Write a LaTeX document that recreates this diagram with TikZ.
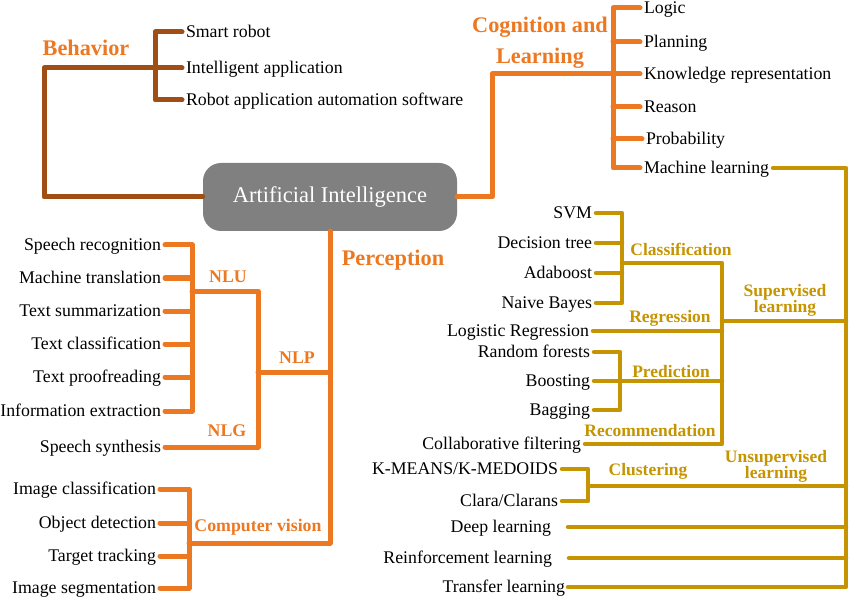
\documentclass[tikz,border=0pt]{standalone}
\usepackage{fontspec}
\setmainfont{Liberation Serif}
\definecolor{aiorange}{RGB}{236,120,34}
\definecolor{aibrown}{RGB}{160,78,20}
\definecolor{aigold}{RGB}{198,148,0}
\definecolor{aigray}{RGB}{128,128,128}
\begin{document}
\begin{tikzpicture}[x=1pt,y=-1pt,
  item/.style={font=\fontsize{17.8}{20}\selectfont, inner ysep=0pt, inner xsep=4pt, text height=11.7pt, text depth=0pt, outer sep=0pt},
  itemR/.style={item, anchor=west},
  itemL/.style={item, anchor=east},
  catlab/.style={font=\fontsize{22.3}{31}\selectfont\bfseries, text=aiorange, align=center, inner sep=0pt},
  sublab/.style={font=\fontsize{17.8}{20}\selectfont\bfseries, text=aiorange, align=center, inner sep=0pt},
  goldlab/.style={font=\fontsize{17.5}{16}\selectfont\bfseries, text=aigold, align=center, inner sep=0pt},
  brownline/.style={draw=aibrown, line width=5pt, line cap=round, line join=round},
  orangeline/.style={draw=aiorange, line width=5pt, line cap=round, line join=round},
  goldline/.style={draw=aigold, line width=4.5pt, line cap=round, line join=round},
]
\useasboundingbox (0,0) rectangle (850,601);

% central node
\node[fill=aigray, rounded corners=18pt, minimum width=254pt, minimum height=68pt, text=white, font=\fontsize{22.5}{26}\selectfont, inner sep=0pt] (ai) at (330,197) {Artificial Intelligence};

% ---------------- Behavior
\node[itemR] (sr) at (182,32) {Smart robot};
\node[itemR] (ia) at (182,68) {Intelligent application};
\node[itemR] (ra) at (182,100) {Robot application automation software};
\coordinate (bc) at (44,68);
\coordinate (bj) at (155,68);
\draw[brownline] (ai.west) -| (bc) -- (ia.west);
\draw[brownline] (sr.west) -| (bj) |- (ra.west);
\node[catlab] (beh) at (86,48) {Behavior};

% ---------------- Cognition and Learning
\node[itemR] (lo) at (640,8) {Logic};
\node[itemR] (pl) at (640,42) {Planning};
\node[itemR] (kr) at (640,74) {Knowledge representation};
\node[itemR] (re) at (640,107) {Reason};
\node[itemR] (pr) at (642,139) {Probability};
\node[itemR] (ml) at (640,168) {Machine learning};
\coordinate (cc) at (492,74);
\coordinate (cj) at (613,74);
\draw[orangeline] (ai.east) -| (cc) -- (kr.west);
\draw[orangeline] (lo.west) -| (cj) |- (ml.west);
\draw[orangeline] (pl.west) -- (pl.west -| cj);
\draw[orangeline] (re.west) -- (re.west -| cj);
\draw[orangeline] (pr.west) -- (pr.west -| cj);
\node[catlab] (cog) at (540,43) {Cognition and\\Learning};

% ---------------- Perception
\coordinate (pj) at (330,543);
\coordinate (cvj) at (189,543);
\node[catlab] (per) at (393,260) {Perception};

\node[itemL] (srec) at (165,245) {Speech recognition};
\node[itemL] (mt) at (165,278) {Machine translation};
\node[itemL] (ts) at (165,311) {Text summarization};
\node[itemL] (tc) at (165,344) {Text classification};
\node[itemL] (tp) at (165,377) {Text proofreading};
\node[itemL] (ie) at (165,411) {Information extraction};
\node[itemL] (ss) at (165,447) {Speech synthesis};
\coordinate (nluv) at (192,291);
\coordinate (nluj) at (258,291);
\coordinate (nlpj) at (258,372);
\coordinate (nlgj) at (258,447);
\draw[orangeline] (srec.east) -| (nluv) |- (ie.east);
\draw[orangeline] (mt.east) -- (mt.east -| nluv);
\draw[orangeline] (ts.east) -- (ts.east -| nluv);
\draw[orangeline] (tc.east) -- (tc.east -| nluv);
\draw[orangeline] (tp.east) -- (tp.east -| nluv);
\draw[orangeline] (nluv) -- (nluj) -- (nlgj) -- (ss.east);
\draw[orangeline] (nlpj) -- (nlpj -| pj);
\node[sublab] (nlu) at (228,277) {NLU};
\node[sublab] (nlp) at (297,358) {NLP};
\node[sublab] (nlg) at (227,431) {NLG};

\node[itemL] (ic) at (160,489) {Image classification};
\node[itemL] (od) at (160,523) {Object detection};
\node[itemL] (tt) at (160,556) {Target tracking};
\node[itemL] (isg) at (160,588) {Image segmentation};
\draw[orangeline] (ic.east) -| (cvj) |- (isg.east);
\draw[orangeline] (od.east) -- (od.east -| cvj);
\draw[orangeline] (tt.east) -- (tt.east -| cvj);
\draw[orangeline] (ai.south) -- (pj) -- (cvj);
\node[sublab] (cv) at (258,527) {Computer vision};

% ---------------- Machine learning subtree
\node[itemL] (svm) at (596,213) {SVM};
\node[itemL] (dt) at (596,243) {Decision tree};
\node[itemL] (ada) at (596,273) {Adaboost};
\node[itemL] (nb) at (596,303) {Naive Bayes};
\node[itemL] (lr) at (593,331) {Logistic Regression};
\node[itemL] (rf) at (594,352) {Random forests};
\node[itemL] (boo) at (594,381) {Boosting};
\node[itemL] (bag) at (594,410) {Bagging};
\node[itemL] (cf) at (585,444) {Collaborative filtering};
\node[itemL] (km) at (562,469) {K-MEANS/K-MEDOIDS};
\node[itemL] (clc) at (562,501) {Clara/Clarans};
\node[itemL, inner xsep=17pt] (dl) at (568,527) {Deep learning};
\node[itemL, inner xsep=17pt] (rl) at (569,558) {Reinforcement learning};
\node[itemL, inner xsep=3pt] (tl) at (568,587) {Transfer learning};

\coordinate (gb) at (846,587);
\coordinate (clj) at (622,263);
\coordinate (st) at (722,263);
\coordinate (sb) at (722,444);
\coordinate (supj) at (722,321);
\coordinate (prj) at (620,381);
\coordinate (cl2) at (588,486);

\draw[goldline] (ml.east) -| (gb) -- (tl.east);
\draw[goldline] (svm.east) -| (clj) |- (nb.east);
\draw[goldline] (dt.east) -- (dt.east -| clj);
\draw[goldline] (ada.east) -- (ada.east -| clj);
\draw[goldline] (clj) -- (st) -- (sb) -- (cf.east);
\draw[goldline] (supj) -- (supj -| gb);
\draw[goldline] (lr.east) -- (lr.east -| st);
\draw[goldline] (rf.east) -| (prj) |- (bag.east);
\draw[goldline] (boo.east) -- (prj) -- (prj -| st);
\draw[goldline] (km.east) -| (cl2) |- (clc.east);
\draw[goldline] (cl2) -- (cl2 -| gb);
\draw[goldline] (dl.east) -- (dl.east -| gb);
\draw[goldline] (rl.east) -- (rl.east -| gb);

\node[goldlab] (cla) at (681,249) {Classification};
\node[goldlab] (reg) at (670,318) {Regression};
\node[goldlab] (pre) at (671,372) {Prediction};
\node[goldlab] (rec) at (650,431) {Recommendation};
\node[goldlab] (clu) at (648,471) {Clustering};
\node[goldlab] (sul) at (785,300) {Supervised\\learning};
\node[goldlab] (usl) at (776,466) {Unsupervised\\learning};
\end{tikzpicture}
\end{document}
